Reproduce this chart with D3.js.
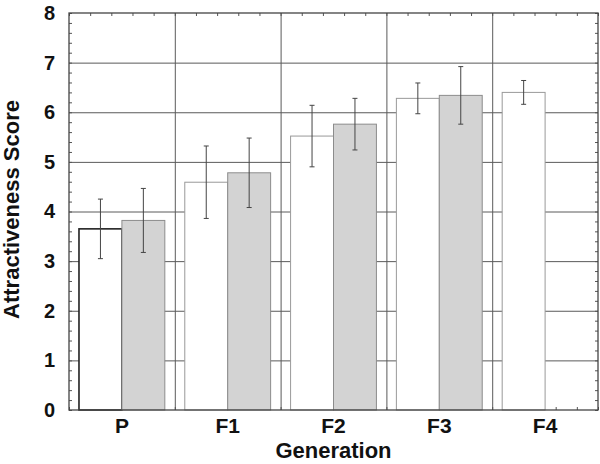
<!DOCTYPE html>
<html>
<head>
<meta charset="utf-8">
<script src="https://cdn.jsdelivr.net/npm/d3@7"></script>
<style>
  html, body { margin: 0; padding: 0; background: #fff; }
  svg { display: block; }
  text { font-family: "Liberation Sans", Arial, Helvetica, sans-serif; font-weight: bold; fill: #111; }
</style>
</head>
<body>
<svg id="chart" width="600" height="464"></svg>
<script>
// ---- data ----
const categories = ["P", "F1", "F2", "F3", "F4"];
const series = ["A", "B"];
const valuesA = [3.65, 4.59, 5.52, 6.28, 6.40];
const errorsA = [0.60, 0.73, 0.62, 0.31, 0.24];
const valuesB = [3.82, 4.78, 5.76, 6.34, null];
const errorsB = [0.645, 0.70, 0.52, 0.58, null];
const yTicks = [0, 1, 2, 3, 4, 5, 6, 7, 8];
const xTitle = "Generation";
const yTitle = "Attractiveness Score";

// ---- layout ----
const margin = { left: 69, right: 2, top: 13, bottom: 54 };
const W = 600, H = 464;
const iw = W - margin.left - margin.right;
const ih = H - margin.top - margin.bottom;

const svg = d3.select("#chart");
const g = svg.append("g").attr("transform", `translate(${margin.left},${margin.top})`);

const x = d3.scaleBand().domain(categories).range([0, iw]).padding(0);
const xs = d3.scaleBand().domain(series).range([0, x.bandwidth()]).paddingInner(0).paddingOuter(0.2326);
const y = d3.scaleLinear().domain([0, 8]).range([ih, 0]);
const xMinor = d3.scaleLinear().domain([0, categories.length]).range([0, iw]);

// horizontal gridlines
g.append("g")
  .call(d3.axisLeft(y).tickValues(yTicks.slice(1, -1)).tickSize(-iw).tickFormat(""))
  .call(a => a.select(".domain").remove())
  .call(a => a.selectAll("line").attr("stroke", "#5a5a5a").attr("stroke-width", 1));

// vertical gridlines at group boundaries
g.append("g")
  .call(d3.axisBottom(xMinor).tickValues(d3.range(1, categories.length)).tickSize(ih).tickFormat(""))
  .call(a => a.select(".domain").remove())
  .call(a => a.selectAll("line").attr("stroke", "#5a5a5a").attr("stroke-width", 1));

// minor ticks (inward) on all four sides
const yMinorVals = d3.range(0, 8.001, 0.2);
const xMinorVals = d3.range(0, categories.length + 0.001, 0.2);
g.append("g").call(d3.axisLeft(y).tickValues(yMinorVals).tickSize(-3).tickFormat(""))
  .call(a => a.select(".domain").remove()).call(a => a.selectAll("line").attr("stroke", "#555"));
g.append("g").attr("transform", `translate(${iw},0)`)
  .call(d3.axisRight(y).tickValues(yMinorVals).tickSize(-3).tickFormat(""))
  .call(a => a.select(".domain").remove()).call(a => a.selectAll("line").attr("stroke", "#555"));
g.append("g").call(d3.axisTop(xMinor).tickValues(xMinorVals).tickSize(-3).tickFormat(""))
  .call(a => a.select(".domain").remove()).call(a => a.selectAll("line").attr("stroke", "#555"));
g.append("g").attr("transform", `translate(0,${ih})`)
  .call(d3.axisBottom(xMinor).tickValues(xMinorVals).tickSize(-3).tickFormat(""))
  .call(a => a.select(".domain").remove()).call(a => a.selectAll("line").attr("stroke", "#555"));

// bars
const rows = [];
categories.forEach((c, i) => {
  rows.push({ cat: c, s: "A", v: valuesA[i], e: errorsA[i], i });
  if (valuesB[i] != null) rows.push({ cat: c, s: "B", v: valuesB[i], e: errorsB[i], i });
});

g.selectAll("rect.bar").data(rows).enter().append("rect")
  .attr("class", "bar")
  .attr("x", d => x(d.cat) + xs(d.s))
  .attr("width", xs.bandwidth())
  .attr("y", d => y(d.v))
  .attr("height", d => y(0) - y(d.v))
  .attr("fill", d => d.s === "A" ? "#ffffff" : "#d3d3d3")
  .attr("stroke", d => d.s === "A" ? (d.i === 0 ? "#222" : "#999") : "#8c8c8c")
  .attr("stroke-width", d => (d.s === "A" && d.i === 0) ? 1.6 : 1);

// error bars
const cap = 2.5;
const eb = g.selectAll("g.err").data(rows).enter().append("g").attr("class", "err")
  .attr("stroke", "#444").attr("stroke-width", 1);
eb.append("line")
  .attr("x1", d => x(d.cat) + xs(d.s) + xs.bandwidth() / 2)
  .attr("x2", d => x(d.cat) + xs(d.s) + xs.bandwidth() / 2)
  .attr("y1", d => y(d.v + d.e)).attr("y2", d => y(d.v - d.e));
eb.append("line")
  .attr("x1", d => x(d.cat) + xs(d.s) + xs.bandwidth() / 2 - cap)
  .attr("x2", d => x(d.cat) + xs(d.s) + xs.bandwidth() / 2 + cap)
  .attr("y1", d => y(d.v + d.e)).attr("y2", d => y(d.v + d.e));
eb.append("line")
  .attr("x1", d => x(d.cat) + xs(d.s) + xs.bandwidth() / 2 - cap)
  .attr("x2", d => x(d.cat) + xs(d.s) + xs.bandwidth() / 2 + cap)
  .attr("y1", d => y(d.v - d.e)).attr("y2", d => y(d.v - d.e));

// frame
g.append("rect").attr("x", 0).attr("y", 0).attr("width", iw).attr("height", ih)
  .attr("fill", "none").attr("stroke", "#444").attr("stroke-width", 1.3);

// y tick labels
g.append("g")
  .call(d3.axisLeft(y).tickValues(yTicks).tickSize(0).tickPadding(14).tickFormat(d3.format("d")))
  .call(a => a.select(".domain").remove())
  .call(a => a.selectAll("text").style("font-size", "20px").style("font-weight", "bold")
    .style("font-family", "'Liberation Sans', Arial, sans-serif").attr("fill", "#111"));

// x tick labels
g.append("g").attr("transform", `translate(0,${ih})`)
  .call(d3.axisBottom(x).tickSize(0).tickPadding(8))
  .call(a => a.select(".domain").remove())
  .call(a => a.selectAll("text").style("font-size", "21px").style("font-weight", "bold")
    .style("font-family", "'Liberation Sans', Arial, sans-serif").attr("fill", "#111"));

// axis titles
svg.append("text").attr("x", margin.left + iw / 2).attr("y", 458)
  .attr("text-anchor", "middle").style("font-size", "22px").text(xTitle);
svg.append("text").attr("transform", `translate(19,${margin.top + ih / 2 - 2}) rotate(-90)`)
  .attr("text-anchor", "middle").style("font-size", "22px").text(yTitle);
</script>
</body>
</html>
